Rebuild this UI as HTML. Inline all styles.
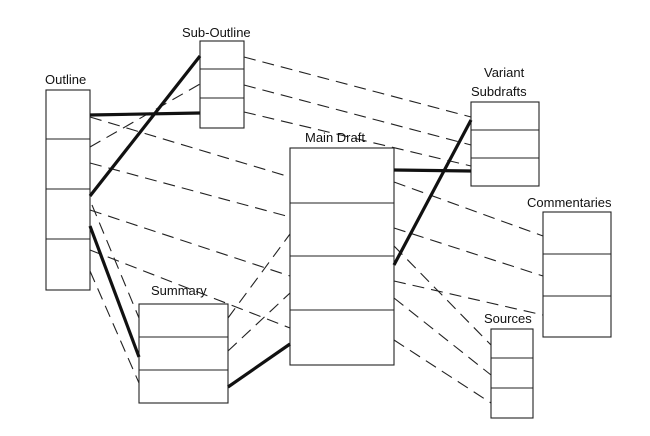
<!DOCTYPE html>
<html><head><meta charset="utf-8"><style>
html,body{margin:0;padding:0;background:#fff;}
svg{display:block;}
text{font-family:"Liberation Sans",sans-serif;font-size:13px;fill:#111;}
</style></head><body>
<svg width="650" height="436" viewBox="0 0 650 436" xmlns="http://www.w3.org/2000/svg">
<g fill="none" stroke="#222" stroke-width="1.1">
<rect x="46" y="90" width="44" height="200"/><line x1="46" y1="139" x2="90" y2="139"/><line x1="46" y1="189" x2="90" y2="189"/><line x1="46" y1="239" x2="90" y2="239"/>
<rect x="200" y="41" width="44" height="87"/><line x1="200" y1="69" x2="244" y2="69"/><line x1="200" y1="98" x2="244" y2="98"/>
<rect x="290" y="148" width="104" height="217"/><line x1="290" y1="203" x2="394" y2="203"/><line x1="290" y1="256" x2="394" y2="256"/><line x1="290" y1="310" x2="394" y2="310"/>
<rect x="471" y="102" width="68" height="84"/><line x1="471" y1="130" x2="539" y2="130"/><line x1="471" y1="158" x2="539" y2="158"/>
<rect x="543" y="212" width="68" height="125"/><line x1="543" y1="254" x2="611" y2="254"/><line x1="543" y1="296" x2="611" y2="296"/>
<rect x="491" y="329" width="42" height="89"/><line x1="491" y1="358" x2="533" y2="358"/><line x1="491" y1="388" x2="533" y2="388"/>
<rect x="139" y="304" width="89" height="99"/><line x1="139" y1="337" x2="228" y2="337"/><line x1="139" y1="370" x2="228" y2="370"/>
</g>
<g fill="none" stroke="#222" stroke-width="1.1" stroke-dasharray="12,7">
<line x1="244" y1="57" x2="471" y2="117"/>
<line x1="244" y1="85" x2="471" y2="145"/>
<line x1="244" y1="112" x2="471" y2="166"/>
<line x1="90" y1="147" x2="200" y2="84"/>
<line x1="90" y1="117" x2="290" y2="177"/>
<line x1="90" y1="163" x2="290" y2="217"/>
<line x1="90" y1="210" x2="290" y2="276"/>
<line x1="90" y1="250" x2="290" y2="328"/>
<line x1="92" y1="205" x2="139" y2="318"/>
<line x1="90" y1="271" x2="139" y2="383"/>
<line x1="228" y1="318" x2="290" y2="234"/>
<line x1="228" y1="351" x2="290" y2="293"/>
<line x1="394" y1="182" x2="543" y2="236"/>
<line x1="394" y1="228" x2="543" y2="276"/>
<line x1="394" y1="281" x2="543" y2="315"/>
<line x1="394" y1="246" x2="491" y2="345"/>
<line x1="394" y1="298" x2="491" y2="375"/>
<line x1="394" y1="340" x2="491" y2="403"/>
</g>
<g fill="none" stroke="#111" stroke-width="3.2">
<line x1="90" y1="115" x2="200" y2="113"/>
<line x1="90" y1="196" x2="200" y2="56"/>
<line x1="90" y1="226" x2="139" y2="357"/>
<line x1="228" y1="387" x2="290" y2="344"/>
<line x1="394" y1="170" x2="471" y2="171"/>
<line x1="394" y1="265" x2="471" y2="120"/>
</g>
<text x="45" y="84">Outline</text>
<text x="182" y="37">Sub-Outline</text>
<text x="305" y="142">Main Draft</text>
<text x="484" y="77">Variant</text>
<text x="471" y="96">Subdrafts</text>
<text x="527" y="207">Commentaries</text>
<text x="484" y="323">Sources</text>
<text x="151" y="295">Summary</text>
</svg>
</body></html>
